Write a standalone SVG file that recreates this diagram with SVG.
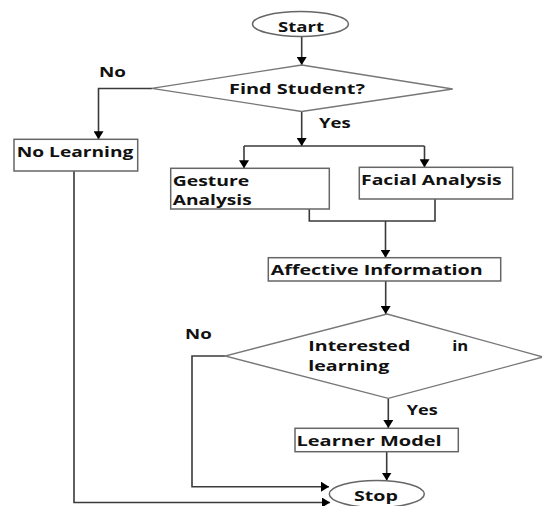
<svg xmlns="http://www.w3.org/2000/svg" width="542" height="506" viewBox="0 0 542 506">
<defs>
<style>
.box{fill:#fff;stroke:#666;stroke-width:1.5}
.dia{fill:#fff;stroke:#777;stroke-width:1.3}
.ln{fill:none;stroke:#3a3a3a;stroke-width:1.6}
.t{font-family:"Open Sans","Liberation Sans",sans-serif;font-weight:bold;font-size:15px;fill:#111}
</style>
<marker id="ah" viewBox="0 0 8 10" refX="8" refY="5" markerWidth="8" markerHeight="10" markerUnits="userSpaceOnUse" orient="auto">
<path d="M0,0 L8,5 L0,10 z" fill="#000"/>
</marker>
</defs>
<rect width="542" height="506" fill="#fff"/>
<g id="connectors">
<path class="ln" d="M301.7,36.5 V65" marker-end="url(#ah)"/>
<path class="ln" d="M152,88.5 H98.5 V139.3" marker-end="url(#ah)"/>
<path class="ln" d="M301.7,111.5 V146" marker-end="url(#ah)"/>
<path class="ln" d="M244,146 H424.5"/>
<path class="ln" d="M244,146 V168.3" marker-end="url(#ah)"/>
<path class="ln" d="M424.5,146 V167.3" marker-end="url(#ah)"/>
<path class="ln" d="M309.3,209 V221 H435 V199"/>
<path class="ln" d="M385.5,221 V257.7" marker-end="url(#ah)"/>
<path class="ln" d="M385.7,281 V314" marker-end="url(#ah)"/>
<path class="ln" d="M388.3,398.3 V428" marker-end="url(#ah)"/>
<path class="ln" d="M386.7,451.7 V480.5" marker-end="url(#ah)"/>
<path class="ln" d="M225,356 H192 V486.7 H329" marker-end="url(#ah)"/>
<path class="ln" d="M74,171 V502.5 H330" stroke-width="2" marker-end="url(#ah)"/>
<text class="t" x="99" y="77.3" textLength="27" lengthAdjust="spacingAndGlyphs">No</text>
<text class="t" x="319" y="128" textLength="31.7" lengthAdjust="spacingAndGlyphs">Yes</text>
<text class="t" x="185" y="339.3" textLength="26.7" lengthAdjust="spacingAndGlyphs">No</text>
<text class="t" x="406.7" y="415" textLength="31" lengthAdjust="spacingAndGlyphs">Yes</text>
</g>
<g id="start">
<ellipse class="box" cx="300.5" cy="24" rx="48" ry="12.5"/>
<text class="t" x="278" y="32.3" textLength="46" lengthAdjust="spacingAndGlyphs">Start</text>
</g>
<g id="find-student">
<polygon class="dia" points="301.7,65 452.7,89 301.7,111.5 151.7,88.3"/>
<text class="t" x="229" y="94.3" textLength="136" lengthAdjust="spacingAndGlyphs">Find Student?</text>
</g>
<g id="no-learning">
<rect class="box" x="14" y="139.3" width="123.7" height="31.7"/>
<text class="t" x="16.7" y="157" textLength="116.6" lengthAdjust="spacingAndGlyphs">No Learning</text>
</g>
<g id="gesture-analysis">
<rect class="box" x="170.7" y="168.3" width="158.6" height="40.7"/>
<text class="t" x="172.7" y="185.5" textLength="76.6" lengthAdjust="spacingAndGlyphs">Gesture</text>
<text class="t" x="172.7" y="205" textLength="79" lengthAdjust="spacingAndGlyphs">Analysis</text>
</g>
<g id="facial-analysis">
<rect class="box" x="359.3" y="167.3" width="153.4" height="31.7"/>
<text class="t" x="361" y="185" textLength="140.7" lengthAdjust="spacingAndGlyphs">Facial Analysis</text>
</g>
<g id="affective-information">
<rect class="box" x="268.3" y="257.7" width="232.4" height="23.3"/>
<text class="t" x="270.7" y="275" textLength="212" lengthAdjust="spacingAndGlyphs">Affective Information</text>
</g>
<g id="interested">
<polygon class="dia" points="387,314 543,357 388.3,398.3 225,356"/>
<text class="t" y="351"><tspan x="308.3" textLength="102" lengthAdjust="spacingAndGlyphs">Interested</tspan><tspan x="452.3" textLength="16" lengthAdjust="spacingAndGlyphs">in</tspan></text>
<text class="t" x="308.3" y="371" textLength="81" lengthAdjust="spacingAndGlyphs">learning</text>
</g>
<g id="learner-model">
<rect class="box" x="295" y="428.3" width="163.3" height="23.4"/>
<text class="t" x="296.5" y="445.5" textLength="145.2" lengthAdjust="spacingAndGlyphs">Learner Model</text>
</g>
<g id="stop">
<ellipse class="box" cx="376.8" cy="494" rx="47.5" ry="13.5"/>
<text class="t" x="354" y="501" textLength="44" lengthAdjust="spacingAndGlyphs">Stop</text>
</g>
</svg>
